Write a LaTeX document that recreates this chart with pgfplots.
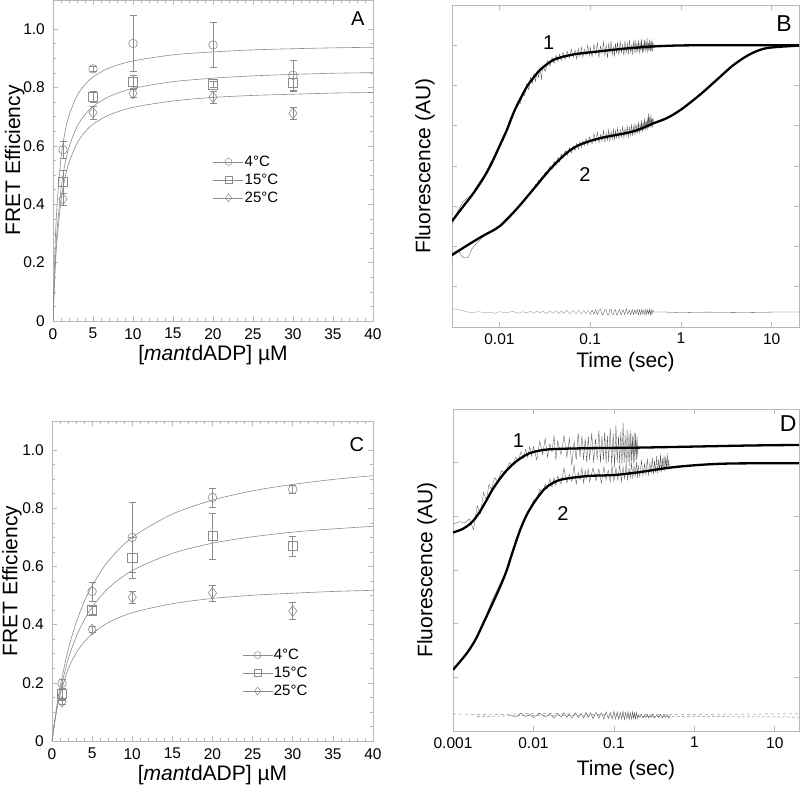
\documentclass[border=0pt]{standalone}
\usepackage{fontspec}
\setmainfont{Liberation Sans}
\usepackage{pgfplots}
\pgfplotsset{compat=1.18}

\definecolor{framec}{gray}{0.72}
\definecolor{dat}{gray}{0.55}
\definecolor{trace}{gray}{0.30}
\newcommand{\fs}[1]{\fontsize{#1}{#1}\selectfont}

\pgfplotsset{
  panel/.style={scale only axis, axis line style={framec, line width=0.7pt},
    tick style={framec, line width=0.6pt}, major tick length=5pt, minor tick length=3pt,
    tick align=inside, tick label style={font=\fs{15.5}, text=black, inner sep=0pt},
    label style={font=\fs{21}, inner sep=0pt}},
  fret/.style={panel, width=320pt, height=321pt, xmin=0, xmax=40, ymin=0, ymax=1.1,
    xtick={0,5,10,15,20,25,30,35,40}, xticklabels={0,5,10,15,20,25,30,35,40},
    ytick={0,0.2,0.4,0.6,0.8,1.0}, yticklabels={0,0.2,0.4,0.6,0.8,1.0},
    minor x tick num=4, minor y tick num=3,
    xticklabel style={yshift=-7pt}, yticklabel style={xshift=-8pt},
    xlabel={[\textit{mant}dADP] µM}, ylabel={FRET Efficiency},
    xlabel style={at={(axis description cs:0.5,-0.105)}, anchor=center},
    ylabel style={at={(axis description cs:-0.12,0.5)}, anchor=center},
    legend style={draw=none, fill=none, font=\fs{15}, inner sep=0pt,
      nodes={inner sep=1pt}, row sep=4pt},
    legend cell align=left,
    legend image code/.code={\draw[#1, mark=none] (0pt,0pt) -- (30pt,0pt);
      \draw[#1] plot coordinates {(15pt,0pt)};}},
  kin/.style={panel, ymin=0, ytick={1,2,3,4,5,6,7}, yticklabels={},
    xminorticks=false, xticklabel style={yshift=-6pt},
    xlabel={Time (sec)}, ylabel={Fluorescence (AU)}},
  fitg/.style={dat, line width=0.6pt, smooth, mark=none, forget plot},
  pts/.style={dat, line width=0.6pt, only marks, forget plot,
    error bars/y dir=both, error bars/y explicit,
    error bars/error bar style={dat, line width=0.5pt},
    error bars/error mark options={dat, line width=0.5pt, mark size=3.5pt, rotate=90}},
  fitk/.style={black, line width=2.3pt, smooth, mark=none},
  noisy/.style={trace, line width=0.3pt, mark=none},
}

\begin{document}
\begin{tikzpicture}
\path[use as bounding box] (0,0) rectangle (800pt,786pt);

% ---------------- A ----------------
\begin{axis}[fret, at={(53pt,465pt)}, anchor=south west,
  legend style={at={(axis cs:20,0.57)}, anchor=north west}]
\addplot[fitg] coordinates {(0,0)(0.25,0.248)(0.5,0.394)(1,0.558)(1.5,0.647)(2,0.704)(3,0.772)(4,0.810)(5,0.836)(7,0.867)(10,0.891)(15,0.912)(20,0.922)(25,0.929)(30,0.933)(35,0.936)(40,0.938)};
\addplot[fitg] coordinates {(0,0)(0.25,0.185)(0.5,0.306)(1,0.452)(1.5,0.539)(2,0.596)(3,0.666)(4,0.707)(5,0.735)(7,0.769)(10,0.797)(15,0.820)(20,0.832)(25,0.840)(30,0.845)(35,0.849)(40,0.851)};
\addplot[fitg] coordinates {(0,0)(0.25,0.167)(0.5,0.276)(1,0.411)(1.5,0.491)(2,0.543)(3,0.609)(4,0.648)(5,0.674)(7,0.706)(10,0.732)(15,0.754)(20,0.766)(25,0.773)(30,0.777)(35,0.781)(40,0.783)};
\addplot[pts, mark=o, mark size=4.3pt] coordinates {(1.25,0.587) +- (0,0.03) (5,0.864) +- (0,0.008) (10,0.951) +- (0,0.095) (20,0.946) +- (0,0.077) (30,0.842) +- (0,0.052)};
\addplot[pts, mark=square, mark size=4.6pt] coordinates {(1.25,0.477) +- (0,0.04) (5,0.769) +- (0,0.018) (10,0.819) +- (0,0.022) (20,0.811) +- (0,0.01) (30,0.817) +- (0,0.03)};
\addplot[pts, mark=diamond, mark size=5.5pt] coordinates {(1.25,0.418) +- (0,0.02) (5,0.714) +- (0,0.022) (10,0.780) +- (0,0.015) (20,0.767) +- (0,0.02) (30,0.712) +- (0,0.02)};
\addlegendimage{dat, line width=0.5pt, mark=o, mark size=3.5pt}
\addlegendentry{4°C}
\addlegendimage{dat, line width=0.5pt, mark=square, mark size=3.5pt}
\addlegendentry{15°C}
\addlegendimage{dat, line width=0.5pt, mark=diamond, mark size=4pt}
\addlegendentry{25°C}
\node[font=\fs{20}] at (axis cs:38.1,1.035) {A};
\end{axis}

% ---------------- C ----------------
\begin{axis}[fret, at={(52pt,45pt)}, anchor=south west, width=321pt, height=320pt,
  ylabel style={at={(axis description cs:-0.125,0.5)}},
  legend style={at={(axis cs:23.7,0.32)}, anchor=north west}]
\addplot[fitg] coordinates {(0,0)(0.5,0.102)(1,0.185)(2,0.312)(3,0.406)(4,0.478)(5,0.534)(7,0.618)(10,0.700)(15,0.780)(20,0.828)(25,0.860)(30,0.882)(35,0.899)(40,0.912)};
\addplot[fitg] coordinates {(0,0)(0.5,0.094)(1,0.169)(2,0.280)(3,0.358)(4,0.415)(5,0.460)(7,0.525)(10,0.586)(15,0.645)(20,0.680)(25,0.702)(30,0.718)(35,0.729)(40,0.738)};
\addplot[fitg] coordinates {(0,0)(0.5,0.093)(1,0.158)(2,0.246)(3,0.302)(4,0.340)(5,0.368)(7,0.407)(10,0.441)(15,0.472)(20,0.490)(25,0.501)(30,0.508)(35,0.514)(40,0.518)};
\addplot[pts, mark=o, mark size=4.3pt] coordinates {(1.25,0.198) +- (0,0.015) (5,0.514) +- (0,0.032) (10,0.700) +- (0,0.12) (20,0.837) +- (0,0.032) (30,0.865) +- (0,0.015)};
\addplot[pts, mark=square, mark size=4.6pt] coordinates {(1.25,0.161) +- (0,0.02) (5,0.449) +- (0,0.015) (10,0.629) +- (0,0.07) (20,0.704) +- (0,0.08) (30,0.670) +- (0,0.035)};
\addplot[pts, mark=diamond, mark size=5.5pt] coordinates {(1.25,0.135) +- (0,0.01) (5,0.383) +- (0,0.01) (10,0.494) +- (0,0.02) (20,0.509) +- (0,0.028) (30,0.447) +- (0,0.03)};
\addlegendimage{dat, line width=0.5pt, mark=o, mark size=3.5pt}
\addlegendentry{4°C}
\addlegendimage{dat, line width=0.5pt, mark=square, mark size=3.5pt}
\addlegendentry{15°C}
\addlegendimage{dat, line width=0.5pt, mark=diamond, mark size=4pt}
\addlegendentry{25°C}
\node[font=\fs{20}] at (axis cs:38,1.02) {C};
\end{axis}

% ---------------- B ----------------
\begin{semilogxaxis}[kin, at={(452pt,459pt)}, anchor=south west, width=347pt, height=322pt,
  xmin=0.003, xmax=20, ymax=8,
  xtick={0.01,0.1,1,10}, xticklabels={0.01,0.1,1,10},
  xlabel style={at={(axis description cs:0.5,-0.11)}, anchor=center},
  ylabel style={at={(axis description cs:-0.078,0.5)}, anchor=center}]
% residual
\addplot[noisy, dat] coordinates {(0.003,0.45)(0.0035,0.44)(0.004,0.40)(0.0045,0.37)(0.005,0.36)(0.006,0.38)(0.007,0.35)(0.008,0.37)(0.009,0.34)(0.01,0.38)(0.012,0.35)(0.014,0.39)(0.016,0.34)(0.018,0.38)(0.02,0.35)(0.022,0.39)(0.024,0.34)(0.026,0.40)(0.028,0.35)(0.03,0.39)(0.033,0.33)(0.036,0.40)(0.039,0.34)(0.042,0.41)(0.045,0.33)(0.048,0.40)(0.051,0.34)(0.055,0.42)(0.06,0.32)(0.065,0.41)(0.07,0.33)(0.075,0.42)(0.08,0.32)(0.085,0.41)(0.09,0.33)(0.095,0.42)(0.1,0.31)};
\addplot[noisy] coordinates {(0.1,0.31)(0.105,0.42)(0.11,0.32)(0.115,0.43)(0.12,0.31)(0.125,0.41)(0.13,0.44)(0.135,0.30)(0.14,0.32)(0.145,0.43)(0.15,0.42)(0.155,0.31)(0.16,0.30)(0.165,0.44)(0.17,0.44)(0.175,0.32)(0.18,0.31)(0.185,0.42)(0.19,0.43)(0.195,0.30)(0.2,0.32)(0.21,0.44)(0.22,0.30)(0.23,0.43)(0.24,0.31)(0.25,0.45)(0.26,0.32)(0.27,0.42)(0.28,0.30)(0.29,0.44)(0.3,0.31)(0.31,0.43)(0.32,0.32)(0.33,0.44)(0.34,0.30)(0.35,0.43)(0.36,0.31)(0.37,0.44)(0.38,0.32)(0.39,0.42)(0.4,0.30)(0.41,0.44)(0.42,0.31)(0.43,0.43)(0.44,0.32)(0.45,0.44)(0.46,0.30)(0.47,0.43)(0.48,0.31)(0.49,0.42)(0.5,0.37)(0.7,0.37)(1,0.36)(2,0.37)(5,0.36)(10,0.37)(20,0.37)};
% trace 1
\addplot[noisy] coordinates {(0.003,2.55)(0.0035,2.9)(0.004,3.12)(0.005,3.3)(0.006,3.6)(0.007,3.8)(0.008,4.1)(0.009,4.25)(0.01,4.5)(0.011,4.75)(0.012,4.9)(0.013,5.15)(0.014,5.3)(0.015,5.45)(0.016,5.6)(0.017,5.55)(0.018,5.8)(0.019,5.75)(0.02,6.05)(0.021,5.9)(0.022,6.2)(0.023,6.05)(0.024,6.3)(0.025,6.1)(0.026,6.35)(0.027,6.2)(0.028,6.45)(0.029,6.15)(0.03,6.5)(0.032,6.35)(0.034,6.62)(0.036,6.48)(0.038,6.7)(0.04,6.55)(0.042,6.75)(0.044,6.6)(0.046,6.78)(0.048,6.62)(0.05,6.82)(0.053,6.65)(0.056,6.85)(0.059,6.68)(0.062,6.9)(0.065,6.7)(0.068,6.88)(0.071,6.66)(0.074,6.92)(0.077,6.72)(0.08,6.95)(0.083,6.7)(0.086,6.9)(0.09,6.75)(0.094,7.0)(0.098,6.74)(0.1,6.95)(0.105,6.72)(0.11,7.02)(0.115,6.78)(0.12,7.06)(0.125,6.7)(0.13,6.98)(0.135,6.8)(0.14,7.08)(0.145,6.74)(0.15,7.0)(0.155,6.68)(0.16,7.04)(0.165,6.82)(0.17,7.1)(0.175,6.76)(0.18,6.96)(0.185,6.72)(0.19,7.05)(0.195,6.8)(0.2,7.08)(0.207,6.75)(0.214,7.1)(0.221,6.82)(0.228,7.02)(0.235,6.74)(0.242,7.12)(0.249,6.8)(0.256,7.05)(0.263,6.77)(0.27,7.14)(0.277,6.84)(0.284,7.0)(0.291,6.76)(0.298,7.1)(0.305,6.82)(0.312,7.15)(0.319,6.79)(0.326,7.06)(0.333,6.85)(0.34,7.12)(0.347,6.78)(0.354,7.08)(0.361,6.86)(0.368,7.16)(0.375,6.8)(0.382,7.04)(0.389,6.84)(0.396,7.14)(0.403,6.82)(0.41,7.1)(0.417,6.88)(0.424,7.17)(0.431,6.8)(0.438,7.06)(0.445,6.86)(0.452,7.13)(0.459,6.83)(0.466,7.09)(0.473,6.87)(0.48,7.15)(0.487,6.84)(0.494,7.06)(0.5,6.97)};
% trace 2
\addplot[noisy] coordinates {(0.003,1.85)(0.0035,1.9)(0.004,1.72)(0.0045,1.72)(0.005,1.95)(0.006,2.15)(0.007,2.3)(0.008,2.38)(0.009,2.45)(0.01,2.5)(0.011,2.62)(0.012,2.7)(0.013,2.78)(0.014,2.85)(0.015,2.9)(0.016,2.98)(0.017,3.05)(0.018,3.1)(0.019,3.2)(0.02,3.22)(0.021,3.3)(0.022,3.35)(0.023,3.42)(0.024,3.4)(0.025,3.55)(0.026,3.5)(0.027,3.65)(0.028,3.6)(0.029,3.72)(0.03,3.68)(0.032,3.85)(0.034,3.8)(0.036,4.0)(0.038,3.92)(0.04,4.12)(0.042,4.02)(0.044,4.22)(0.046,4.1)(0.048,4.3)(0.05,4.18)(0.053,4.38)(0.056,4.26)(0.059,4.45)(0.062,4.32)(0.065,4.5)(0.068,4.38)(0.071,4.56)(0.074,4.42)(0.077,4.6)(0.08,4.45)(0.083,4.62)(0.086,4.5)(0.09,4.68)(0.094,4.52)(0.098,4.72)(0.105,4.55)(0.11,4.8)(0.115,4.6)(0.12,4.84)(0.125,4.58)(0.13,4.78)(0.135,4.62)(0.14,4.88)(0.145,4.6)(0.15,4.82)(0.155,4.64)(0.16,4.9)(0.165,4.62)(0.17,4.86)(0.175,4.66)(0.18,4.92)(0.185,4.65)(0.19,4.88)(0.195,4.7)(0.2,4.94)(0.207,4.68)(0.214,4.9)(0.221,4.72)(0.228,4.98)(0.235,4.7)(0.242,4.93)(0.249,4.74)(0.256,5.0)(0.263,4.72)(0.27,4.96)(0.277,4.76)(0.284,5.04)(0.291,4.75)(0.298,4.98)(0.305,4.8)(0.312,5.06)(0.319,4.78)(0.326,5.02)(0.333,4.82)(0.34,5.1)(0.347,4.8)(0.354,5.06)(0.361,4.86)(0.368,5.14)(0.375,4.84)(0.382,5.08)(0.389,4.9)(0.396,5.18)(0.403,4.88)(0.41,5.12)(0.417,4.92)(0.424,5.2)(0.431,4.9)(0.438,5.3)(0.445,4.95)(0.452,5.22)(0.459,4.94)(0.466,5.28)(0.473,4.98)(0.48,5.2)(0.487,4.96)(0.494,5.18)(0.5,5.05)};
% fits
\addplot[fitk] coordinates {(0.003,2.63)(0.004,3.0)(0.005,3.28)(0.0065,3.66)(0.008,4.02)(0.01,4.49)(0.012,4.88)(0.0147,5.38)(0.0197,5.94)(0.0235,6.18)(0.0282,6.39)(0.0397,6.64)(0.065,6.77)(0.128,6.85)(0.25,6.92)(0.5,6.97)(1,6.995)(3,7.0)(20,7.0)};
\addplot[fitk] coordinates {(0.00297,1.78)(0.00428,2.01)(0.00653,2.26)(0.01,2.50)(0.0153,2.92)(0.0234,3.41)(0.0358,3.91)(0.0547,4.32)(0.0769,4.53)(0.128,4.69)(0.299,4.86)(0.485,5.05)(0.70,5.19)(1.0,5.40)(1.62,5.77)(2.48,6.14)(3.80,6.51)(5.8,6.78)(8.87,6.93)(20,6.99)};
\node[font=\fs{20}] at (axis cs:0.0348,7.07) {1};
\node[font=\fs{20}] at (axis cs:0.0873,3.79) {2};
\node[font=\fs{23}] at (axis cs:13.7,7.55) {B};
\end{semilogxaxis}

% ---------------- D ----------------
\begin{semilogxaxis}[kin, at={(453pt,55pt)}, anchor=south west, width=346pt, height=322pt,
  xmin=0.001, xmax=20, ymax=6,
  xtick={0.001,0.01,0.1,1,10}, xticklabels={0.001,0.01,0.1,1,10}, ytick={1,2,3,4,5},
  xlabel style={at={(axis description cs:0.5,-0.12)}, anchor=center},
  ylabel style={at={(axis description cs:-0.075,0.5)}, anchor=center}]
% residual
\addplot[dat, line width=0.5pt, dashed, mark=none] coordinates {(0.001,0.32)(0.003,0.30)(0.01,0.33)(0.1,0.30)(1,0.31)(20,0.32)};
\addplot[dat, line width=0.5pt, densely dashed, mark=none] coordinates {(0.002,0.27)(0.01,0.29)(0.5,0.27)(20,0.26)};
\addplot[noisy] coordinates {(0.005,0.30)(0.006,0.26)(0.007,0.33)(0.008,0.27)(0.009,0.31)(0.01,0.25)(0.012,0.33)(0.014,0.26)(0.016,0.32)(0.018,0.24)(0.02,0.33)(0.022,0.26)(0.024,0.34)(0.026,0.25)(0.028,0.32)(0.03,0.24)(0.033,0.34)(0.036,0.25)(0.039,0.33)(0.042,0.24)(0.045,0.35)(0.048,0.25)(0.051,0.34)(0.055,0.23)(0.06,0.35)(0.065,0.24)(0.07,0.34)(0.075,0.22)(0.08,0.36)(0.085,0.23)(0.09,0.35)(0.095,0.22)(0.1,0.37)(0.105,0.22)(0.11,0.36)(0.115,0.21)(0.12,0.35)(0.125,0.22)(0.13,0.37)(0.135,0.21)(0.14,0.35)(0.145,0.23)(0.15,0.36)(0.155,0.21)(0.16,0.34)(0.165,0.22)(0.17,0.36)(0.175,0.23)(0.18,0.34)(0.185,0.22)(0.19,0.35)(0.195,0.23)(0.2,0.30)(0.21,0.25)(0.22,0.31)(0.23,0.24)(0.24,0.30)(0.25,0.25)(0.26,0.31)(0.27,0.24)(0.28,0.30)(0.29,0.25)(0.3,0.31)(0.32,0.24)(0.34,0.30)(0.36,0.25)(0.38,0.31)(0.4,0.24)(0.42,0.30)(0.44,0.25)(0.46,0.30)(0.48,0.24)(0.5,0.27)};
% trace 1
\addplot[noisy] coordinates {(0.001,3.85)(0.0012,3.9)(0.0014,3.88)(0.0016,3.95)(0.0018,3.75)(0.002,4.2)(0.0022,4.05)(0.0024,4.45)(0.0026,4.3)(0.0028,4.6)(0.003,4.5)(0.0033,4.72)(0.0036,4.65)(0.004,4.85)(0.0045,4.8)(0.005,5.0)(0.0055,4.95)(0.006,5.1)(0.0065,5.05)(0.007,5.2)(0.0075,5.08)(0.008,5.25)(0.0085,5.1)(0.009,5.3)(0.0095,5.12)(0.01,5.3)(0.011,5.05)(0.012,5.4)(0.013,5.15)(0.014,5.45)(0.015,5.1)(0.016,5.35)(0.017,5.2)(0.018,5.5)(0.019,5.05)(0.02,5.4)(0.022,5.15)(0.024,5.5)(0.026,5.1)(0.028,5.45)(0.03,4.95)(0.032,5.4)(0.034,5.05)(0.036,5.55)(0.038,5.1)(0.04,5.5)(0.042,5.05)(0.044,5.45)(0.046,5.0)(0.048,5.5)(0.05,5.05)(0.053,5.55)(0.056,5.0)(0.059,5.45)(0.062,5.05)(0.065,5.6)(0.068,5.0)(0.071,5.5)(0.074,5.05)(0.077,5.58)(0.08,4.98)(0.083,5.5)(0.086,5.02)(0.09,5.65)(0.094,4.95)(0.098,5.55)(0.102,4.92)(0.106,5.7)(0.11,5.0)(0.114,5.5)(0.118,4.98)(0.122,5.58)(0.126,4.95)(0.13,5.75)(0.134,5.0)(0.138,5.52)(0.142,4.96)(0.146,5.6)(0.15,5.0)(0.154,5.55)(0.158,4.94)(0.162,5.62)(0.166,5.02)(0.17,5.5)(0.174,4.98)(0.178,5.58)(0.182,5.0)(0.186,5.55)(0.19,5.05)(0.194,5.5)(0.198,5.1)(0.2,5.28)};
% trace 2
\addplot[noisy] coordinates {(0.001,1.14)(0.0015,1.44)(0.002,1.75)(0.0025,2.1)(0.003,2.4)(0.0035,2.62)(0.004,2.8)(0.0045,2.95)(0.005,3.2)(0.0055,3.35)(0.006,3.5)(0.0065,3.62)(0.007,3.78)(0.0075,3.85)(0.008,4.0)(0.009,4.1)(0.01,4.3)(0.011,4.32)(0.012,4.5)(0.013,4.45)(0.014,4.6)(0.015,4.52)(0.016,4.7)(0.017,4.55)(0.018,4.72)(0.019,4.58)(0.02,4.75)(0.022,4.6)(0.024,4.9)(0.026,4.62)(0.028,4.78)(0.03,4.65)(0.032,4.95)(0.034,4.6)(0.036,4.82)(0.038,4.68)(0.04,4.9)(0.042,4.62)(0.044,4.85)(0.046,4.7)(0.048,4.88)(0.05,4.64)(0.055,4.9)(0.06,4.66)(0.065,4.88)(0.07,4.62)(0.075,4.92)(0.08,4.68)(0.085,4.86)(0.09,4.64)(0.095,4.94)(0.1,4.66)(0.106,4.9)(0.112,4.68)(0.118,4.95)(0.124,4.65)(0.13,4.92)(0.136,4.7)(0.142,4.97)(0.148,4.68)(0.154,4.9)(0.16,4.72)(0.166,5.0)(0.172,4.7)(0.178,4.94)(0.184,4.74)(0.19,5.02)(0.196,4.72)(0.2,4.96)(0.21,4.74)(0.22,5.04)(0.23,4.76)(0.24,4.98)(0.25,4.78)(0.26,5.08)(0.27,4.76)(0.28,5.0)(0.29,4.8)(0.3,5.1)(0.31,4.78)(0.32,5.04)(0.33,4.82)(0.34,5.12)(0.35,4.8)(0.36,5.06)(0.37,4.84)(0.38,5.16)(0.39,4.82)(0.4,5.08)(0.41,4.86)(0.42,5.14)(0.43,4.84)(0.44,5.1)(0.45,4.88)(0.46,5.18)(0.47,4.86)(0.48,5.06)(0.49,4.9)(0.5,4.9)};
% fits
\addplot[fitk] coordinates {(0.001,3.70)(0.0013,3.76)(0.00169,3.88)(0.0021,4.06)(0.00261,4.30)(0.0031,4.50)(0.00383,4.70)(0.0048,4.88)(0.00619,5.03)(0.008,5.14)(0.01,5.20)(0.0162,5.25)(0.05,5.27)(0.196,5.28)(1,5.30)(5,5.32)(20,5.33)};
\addplot[fitk] coordinates {(0.001,1.14)(0.00147,1.44)(0.0019,1.70)(0.00237,2.0)(0.003,2.33)(0.00383,2.68)(0.00464,2.99)(0.0056,3.37)(0.00681,3.74)(0.0082,4.02)(0.01,4.24)(0.0122,4.42)(0.0147,4.55)(0.0215,4.68)(0.0464,4.75)(0.1,4.77)(0.2,4.82)(0.51,4.91)(1.21,4.96)(3,4.985)(20,4.99)};
\node[font=\fs{20}] at (axis cs:0.0065,5.42) {1};
\node[font=\fs{20}] at (axis cs:0.0233,4.06) {2};
\node[font=\fs{23}] at (axis cs:14.7,5.73) {D};
\end{semilogxaxis}
\end{tikzpicture}
\end{document}
